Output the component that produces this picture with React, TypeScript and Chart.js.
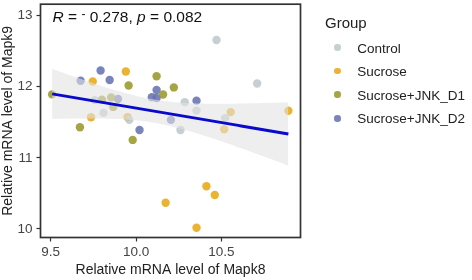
import React, { useEffect, useRef } from "react";
import { Chart, registerables } from "chart.js";

Chart.register(...registerables);

// ---- Data ----
const groups = ["Control", "Sucrose", "Sucrose+JNK_D1", "Sucrose+JNK_D2"];

const controlX = [10.471, 10.709, 10.285, 10.354, 9.757, 9.809, 9.96, 10.26, 10.522];
const controlY = [12.657, 12.046, 11.783, 11.664, 11.811, 11.632, 11.534, 11.392, 11.559];

const sucroseX = [9.94, 9.746, 9.736, 9.95, 10.554, 10.892, 10.516, 10.412, 10.461, 10.173, 10.354];
const sucroseY = [12.214, 12.074, 11.571, 11.573, 11.643, 11.662, 11.403, 10.601, 10.478, 10.368, 10.018];

const d1X = [9.956, 10.12, 10.221, 10.158, 9.508, 9.8, 9.854, 9.866, 9.671, 9.98];
const d1Y = [12.018, 12.147, 11.99, 11.891, 11.892, 11.818, 11.85, 11.716, 11.431, 11.252];

const d2X = [9.792, 9.675, 9.845, 10.12, 10.092, 10.12, 10.354, 9.894, 10.204, 10.02];
const d2Y = [12.228, 12.084, 12.094, 11.954, 11.853, 11.842, 11.804, 11.828, 11.534, 11.392];

const xTicks = [9.5, 10.0, 10.5];
const yTicks = [10, 11, 12, 13];
const corR = "0.278";
const corP = "0.082";

const colors = [
  "rgba(188,199,201,0.85)",
  "rgba(231,168,22,0.88)",
  "rgba(152,152,44,0.88)",
  "rgba(102,115,178,0.88)",
];

const FONT = '"Liberation Sans", Arial, Helvetica, sans-serif';

function toPts(xs: number[], ys: number[]) {
  return xs.map((x, i) => ({ x, y: ys[i] }));
}

export default function App() {
  const ref = useRef<HTMLCanvasElement>(null);

  useEffect(() => {
    const canvas = ref.current;
    if (!canvas) return;

    const allX = [...controlX, ...sucroseX, ...d1X, ...d2X];
    const allY = [...controlY, ...sucroseY, ...d1Y, ...d2Y];
    const n = allX.length;
    const mx = allX.reduce((a, b) => a + b, 0) / n;
    const my = allY.reduce((a, b) => a + b, 0) / n;
    let sxx = 0;
    let sxy = 0;
    for (let i = 0; i < n; i++) {
      sxx += (allX[i] - mx) ** 2;
      sxy += (allX[i] - mx) * (allY[i] - my);
    }
    const slope = sxy / sxx;
    const icpt = my - slope * mx;
    let sse = 0;
    for (let i = 0; i < n; i++) sse += (allY[i] - (icpt + slope * allX[i])) ** 2;
    const s = Math.sqrt(sse / (n - 2));
    const tcrit = 2.024;
    const xmin = Math.min(...allX);
    const xmax = Math.max(...allX);
    const fit: { x: number; y: number }[] = [];
    const upper: { x: number; y: number }[] = [];
    const lower: { x: number; y: number }[] = [];
    const steps = 80;
    for (let k = 0; k <= steps; k++) {
      const x = xmin + ((xmax - xmin) * k) / steps;
      const yhat = icpt + slope * x;
      const se = s * Math.sqrt(1 / n + (x - mx) ** 2 / sxx);
      fit.push({ x, y: yhat });
      upper.push({ x, y: yhat + tcrit * se });
      lower.push({ x, y: yhat - tcrit * se });
    }

    const borderPlugin = {
      id: "panelBorder",
      afterDraw(chart: any) {
        const { ctx, chartArea } = chart;
        ctx.save();
        ctx.strokeStyle = "#333333";
        ctx.lineWidth = 1.7;
        ctx.strokeRect(
          chartArea.left,
          chartArea.top,
          chartArea.right - chartArea.left,
          chartArea.bottom - chartArea.top
        );
        ctx.restore();
      },
    };

    const pointSets = [
      toPts(controlX, controlY),
      toPts(sucroseX, sucroseY),
      toPts(d1X, d1Y),
      toPts(d2X, d2Y),
    ];

    const chart = new Chart(canvas, {
      type: "scatter",
      data: {
        datasets: [
          ...pointSets.map((data, i) => ({
            label: groups[i],
            data,
            backgroundColor: colors[i],
            borderWidth: 0,
            pointRadius: 4.2,
            order: 10,
          })),
          {
            label: "upper",
            type: "line" as const,
            data: upper,
            borderWidth: 0,
            pointRadius: 0,
            fill: "+1",
            backgroundColor: "rgba(226,226,226,0.6)",
            order: 5,
          },
          {
            label: "lower",
            type: "line" as const,
            data: lower,
            borderWidth: 0,
            pointRadius: 0,
            fill: false,
            order: 5,
          },
          {
            label: "fit",
            type: "line" as const,
            data: fit,
            borderColor: "#0a0acd",
            borderWidth: 3,
            pointRadius: 0,
            fill: false,
            order: 1,
          },
        ] as any,
      },
      options: {
        responsive: false,
        animation: false,
        devicePixelRatio: 1,
        maintainAspectRatio: false,
        layout: { padding: { left: 0, top: 3, right: 171.5, bottom: 0 } },
        plugins: {
          legend: { display: false },
          tooltip: { enabled: false },
        },
        scales: {
          x: {
            type: "linear",
            min: 9.44,
            max: 10.963,
            afterFit: (sc: any) => {
              sc.height = 42.5;
              sc.paddingLeft = 0;
              sc.paddingRight = 0;
            },
            afterBuildTicks: (sc: any) => {
              sc.ticks = xTicks.map((v) => ({ value: v }));
            },
            ticks: {
              callback: (v: any) => Number(v).toFixed(1),
              color: "#444444",
              font: { family: FONT, size: 13.5 },
              padding: 3,
              maxRotation: 0,
            },
            grid: {
              display: true,
              drawOnChartArea: false,
              drawTicks: true,
              tickLength: 4,
              tickColor: "#333333",
              tickWidth: 1.2,
            },
            border: { display: false },
            title: {
              display: true,
              text: "Relative mRNA level of Mapk8",
              color: "#222222",
              font: { family: FONT, size: 14 },
              padding: { top: 0, bottom: 1 },
            },
          },
          y: {
            type: "linear",
            min: 9.88,
            max: 13.16,
            afterFit: (sc: any) => {
              sc.width = 40.5;
              sc.paddingTop = 0;
              sc.paddingBottom = 0;
            },
            afterBuildTicks: (sc: any) => {
              sc.ticks = yTicks.map((v) => ({ value: v }));
            },
            ticks: {
              callback: (v: any) => String(v),
              color: "#444444",
              font: { family: FONT, size: 13.5 },
              padding: 4,
            },
            grid: {
              display: true,
              drawOnChartArea: false,
              drawTicks: true,
              tickLength: 4,
              tickColor: "#333333",
              tickWidth: 1.2,
            },
            border: { display: false },
            title: {
              display: true,
              text: "Relative mRNA level of Mapk9",
              color: "#222222",
              font: { family: FONT, size: 14 },
              padding: { top: 0, bottom: 0 },
            },
          },
        },
      },
      plugins: [borderPlugin],
    });

    return () => chart.destroy();
  }, []);

  const legendTop = 47.5;
  const legendStep = 23.6;

  return (
    <div
      style={{
        position: "fixed",
        left: 0,
        top: 0,
        width: 472,
        height: 280,
        background: "#ffffff",
        fontFamily: FONT,
        overflow: "hidden",
      }}
    >
      <canvas
        ref={ref}
        width={472}
        height={280}
        style={{ position: "absolute", left: 0, top: 0, width: 472, height: 280 }}
      />
      <div
        style={{
          position: "absolute",
          left: 52.5,
          top: 8.6,
          fontSize: 15.5,
          lineHeight: 1,
          color: "#111111",
          whiteSpace: "nowrap",
        }}
      >
        <i>R</i> = <span style={{ position: "relative", top: -4, fontSize: 12 }}>-</span> {corR}, <i>p</i> = {corP}
      </div>
      <div
        style={{
          position: "absolute",
          left: 325,
          top: 14.6,
          fontSize: 15,
          lineHeight: 1,
          color: "#222222",
          whiteSpace: "nowrap",
        }}
      >
        Group
      </div>
      {groups.map((g, i) => (
        <React.Fragment key={g}>
          <div
            style={{
              position: "absolute",
              left: 337.7 - 3.3,
              top: legendTop + i * legendStep - 3.3,
              width: 6.6,
              height: 6.6,
              borderRadius: "50%",
              background: colors[i],
            }}
          />
          <div
            style={{
              position: "absolute",
              left: 357.3,
              top: legendTop + i * legendStep - 6,
              fontSize: 13.5,
              lineHeight: 1,
              color: "#222222",
              whiteSpace: "nowrap",
            }}
          >
            {g}
          </div>
        </React.Fragment>
      ))}
    </div>
  );
}
